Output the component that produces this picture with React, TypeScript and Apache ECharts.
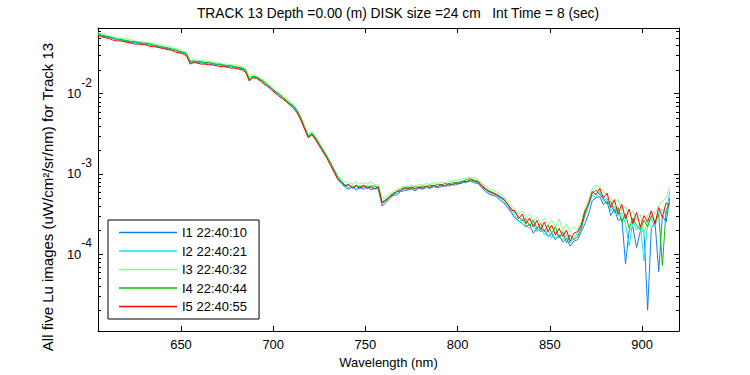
import React, { useEffect, useRef } from "react";
import * as echarts from "echarts";

// Wavelength grid (nm)
const wavelengths = [
  605, 607, 609, 611, 613, 615, 617, 619, 621, 623,
  625, 627, 629, 631, 633, 635, 637, 639, 641, 643,
  645, 647, 649, 651, 653, 655, 657, 659, 661, 663,
  665, 667, 669, 671, 673, 675, 677, 679, 681, 683,
  685, 687, 689, 691, 693, 695, 697, 699, 701, 703,
  705, 707, 709, 711, 713, 715, 717, 719, 721, 723,
  725, 727, 729, 731, 733, 735, 737, 739, 741, 743,
  745, 747, 749, 751, 753, 755, 757, 759, 761, 763,
  765, 767, 769, 771, 773, 775, 777, 779, 781, 783,
  785, 787, 789, 791, 793, 795, 797, 799, 801, 803,
  805, 807, 809, 811, 813, 815, 817, 819, 821, 823,
  825, 827, 829, 831, 833, 835, 837, 839, 841, 843,
  845, 847, 849, 851, 853, 855, 857, 859, 861, 863,
  865, 867, 869, 871, 873, 875, 877, 879, 881, 883,
  885, 887, 889, 891, 893, 895, 897, 899, 901, 903,
  905, 907, 909, 911, 913, 915,
];

// log10 of Lu (uW/cm^2/sr/nm) for each image
const logLuI1 = [
  -1.26, -1.28, -1.29, -1.30, -1.31, -1.32, -1.33, -1.34, -1.35, -1.36,
  -1.36, -1.37, -1.38, -1.38, -1.39, -1.40, -1.41, -1.42, -1.43, -1.44,
  -1.45, -1.46, -1.48, -1.49, -1.51, -1.61, -1.60, -1.61, -1.61, -1.62,
  -1.63, -1.63, -1.64, -1.64, -1.65, -1.66, -1.66, -1.67, -1.68, -1.69,
  -1.71, -1.83, -1.79, -1.80, -1.83, -1.86, -1.90, -1.94, -1.98, -2.01,
  -2.05, -2.09, -2.13, -2.16, -2.23, -2.31, -2.43, -2.54, -2.50, -2.56,
  -2.64, -2.71, -2.79, -2.88, -2.96, -3.06, -3.12, -3.17, -3.19, -3.16,
  -3.20, -3.17, -3.19, -3.16, -3.20, -3.18, -3.19, -3.40, -3.36, -3.31,
  -3.27, -3.26, -3.22, -3.21, -3.20, -3.19, -3.21, -3.18, -3.19, -3.17,
  -3.18, -3.16, -3.17, -3.16, -3.15, -3.15, -3.13, -3.14, -3.12, -3.11,
  -3.10, -3.09, -3.11, -3.12, -3.17, -3.22, -3.25, -3.27, -3.28, -3.33,
  -3.36, -3.42, -3.48, -3.55, -3.58, -3.62, -3.66, -3.63, -3.74, -3.68,
  -3.72, -3.70, -3.78, -3.74, -3.82, -3.76, -3.85, -3.80, -3.90, -3.84,
  -3.82, -3.72, -3.62, -3.50, -3.33, -3.30, -3.28, -3.38, -3.34, -3.52,
  -3.44, -3.58, -3.55, -4.12, -3.70, -3.66, -3.92, -3.72, -3.70, -4.70,
  -3.68, -3.60, -4.22, -3.52, -3.60, -3.30,
];

const logLuI2 = [
  -1.26, -1.27, -1.28, -1.30, -1.31, -1.32, -1.33, -1.34, -1.34, -1.35,
  -1.36, -1.37, -1.37, -1.38, -1.39, -1.40, -1.41, -1.42, -1.42, -1.43,
  -1.45, -1.46, -1.47, -1.49, -1.51, -1.61, -1.60, -1.60, -1.61, -1.62,
  -1.62, -1.63, -1.64, -1.64, -1.65, -1.65, -1.66, -1.67, -1.67, -1.68,
  -1.71, -1.82, -1.79, -1.80, -1.82, -1.86, -1.90, -1.93, -1.97, -2.01,
  -2.05, -2.08, -2.12, -2.16, -2.22, -2.31, -2.42, -2.53, -2.50, -2.56,
  -2.63, -2.71, -2.78, -2.87, -2.96, -3.05, -3.11, -3.15, -3.17, -3.14,
  -3.18, -3.15, -3.17, -3.14, -3.18, -3.16, -3.17, -3.37, -3.34, -3.30,
  -3.25, -3.24, -3.21, -3.19, -3.19, -3.17, -3.19, -3.17, -3.17, -3.16,
  -3.17, -3.15, -3.16, -3.14, -3.15, -3.13, -3.13, -3.12, -3.11, -3.10,
  -3.09, -3.08, -3.10, -3.11, -3.16, -3.20, -3.23, -3.25, -3.27, -3.30,
  -3.34, -3.40, -3.46, -3.52, -3.60, -3.56, -3.64, -3.68, -3.62, -3.72,
  -3.66, -3.76, -3.70, -3.80, -3.72, -3.78, -3.82, -3.76, -3.86, -3.80,
  -3.74, -3.66, -3.52, -3.40, -3.26, -3.30, -3.22, -3.34, -3.30, -3.46,
  -3.40, -3.52, -3.48, -3.62, -3.90, -3.58, -3.70, -3.64, -4.08, -3.62,
  -3.56, -3.66, -3.48, -3.44, -3.50, -3.22,
];

const logLuI3 = [
  -1.24, -1.25, -1.26, -1.28, -1.29, -1.30, -1.31, -1.31, -1.32, -1.33,
  -1.34, -1.35, -1.35, -1.36, -1.37, -1.38, -1.38, -1.39, -1.40, -1.41,
  -1.42, -1.44, -1.45, -1.46, -1.49, -1.59, -1.58, -1.58, -1.59, -1.59,
  -1.60, -1.61, -1.61, -1.62, -1.63, -1.63, -1.64, -1.64, -1.65, -1.66,
  -1.69, -1.80, -1.76, -1.78, -1.80, -1.84, -1.87, -1.91, -1.95, -1.99,
  -2.02, -2.06, -2.10, -2.14, -2.20, -2.29, -2.40, -2.51, -2.47, -2.54,
  -2.61, -2.69, -2.76, -2.85, -2.94, -3.02, -3.07, -3.10, -3.11, -3.13,
  -3.10, -3.13, -3.11, -3.12, -3.10, -3.13, -3.14, -3.30, -3.29, -3.25,
  -3.22, -3.19, -3.17, -3.15, -3.16, -3.14, -3.15, -3.13, -3.14, -3.12,
  -3.13, -3.11, -3.12, -3.10, -3.11, -3.09, -3.09, -3.08, -3.07, -3.06,
  -3.05, -3.04, -3.05, -3.07, -3.12, -3.15, -3.19, -3.20, -3.22, -3.25,
  -3.28, -3.34, -3.40, -3.44, -3.50, -3.46, -3.55, -3.50, -3.60, -3.54,
  -3.62, -3.55, -3.64, -3.58, -3.66, -3.56, -3.70, -3.62, -3.72, -3.66,
  -3.70, -3.60, -3.44, -3.32, -3.18, -3.14, -3.16, -3.22, -3.26, -3.30,
  -3.36, -3.32, -3.46, -3.40, -3.52, -3.46, -3.58, -3.50, -3.78, -3.52,
  -3.46, -3.50, -3.40, -3.34, -3.30, -3.16,
];

const logLuI4 = [
  -1.25, -1.27, -1.28, -1.29, -1.30, -1.32, -1.32, -1.33, -1.34, -1.35,
  -1.35, -1.36, -1.37, -1.37, -1.38, -1.39, -1.40, -1.41, -1.42, -1.43,
  -1.44, -1.45, -1.47, -1.48, -1.50, -1.60, -1.59, -1.60, -1.60, -1.61,
  -1.61, -1.62, -1.63, -1.63, -1.64, -1.65, -1.65, -1.66, -1.67, -1.68,
  -1.70, -1.82, -1.78, -1.79, -1.82, -1.85, -1.89, -1.93, -1.97, -2.00,
  -2.04, -2.08, -2.12, -2.15, -2.21, -2.30, -2.42, -2.53, -2.49, -2.55,
  -2.63, -2.70, -2.78, -2.86, -2.95, -3.04, -3.09, -3.14, -3.14, -3.17,
  -3.14, -3.16, -3.14, -3.17, -3.15, -3.15, -3.17, -3.35, -3.32, -3.28,
  -3.24, -3.22, -3.19, -3.18, -3.17, -3.18, -3.16, -3.17, -3.15, -3.16,
  -3.14, -3.15, -3.13, -3.14, -3.12, -3.13, -3.11, -3.11, -3.10, -3.09,
  -3.07, -3.06, -3.08, -3.09, -3.14, -3.18, -3.21, -3.23, -3.25, -3.28,
  -3.31, -3.38, -3.43, -3.48, -3.53, -3.58, -3.56, -3.65, -3.58, -3.68,
  -3.62, -3.72, -3.64, -3.74, -3.66, -3.80, -3.72, -3.86, -3.76, -3.82,
  -3.78, -3.68, -3.50, -3.36, -3.24, -3.20, -3.26, -3.30, -3.38, -3.34,
  -3.48, -3.42, -3.60, -3.50, -3.68, -3.55, -3.64, -3.70, -3.58, -3.66,
  -3.52, -3.60, -3.50, -4.14, -3.46, -3.36,
];

const logLuI5 = [
  -1.27, -1.29, -1.30, -1.31, -1.33, -1.34, -1.34, -1.35, -1.36, -1.37,
  -1.38, -1.38, -1.39, -1.39, -1.41, -1.41, -1.42, -1.43, -1.44, -1.45,
  -1.46, -1.48, -1.49, -1.50, -1.53, -1.63, -1.61, -1.62, -1.63, -1.63,
  -1.64, -1.64, -1.65, -1.66, -1.66, -1.67, -1.68, -1.68, -1.69, -1.70,
  -1.73, -1.84, -1.80, -1.81, -1.84, -1.88, -1.91, -1.95, -1.99, -2.03,
  -2.06, -2.10, -2.14, -2.18, -2.24, -2.33, -2.44, -2.55, -2.51, -2.58,
  -2.65, -2.73, -2.80, -2.89, -2.98, -3.07, -3.10, -3.15, -3.13, -3.18,
  -3.15, -3.18, -3.15, -3.18, -3.16, -3.19, -3.16, -3.36, -3.33, -3.29,
  -3.26, -3.22, -3.21, -3.17, -3.19, -3.16, -3.19, -3.16, -3.18, -3.15,
  -3.17, -3.14, -3.16, -3.13, -3.15, -3.12, -3.14, -3.11, -3.12, -3.09,
  -3.10, -3.07, -3.09, -3.10, -3.15, -3.19, -3.22, -3.24, -3.26, -3.29,
  -3.32, -3.37, -3.45, -3.46, -3.56, -3.50, -3.62, -3.55, -3.66, -3.58,
  -3.70, -3.60, -3.72, -3.64, -3.76, -3.68, -3.78, -3.70, -3.84, -3.74,
  -3.72, -3.64, -3.46, -3.38, -3.22, -3.26, -3.18, -3.30, -3.24, -3.42,
  -3.32, -3.50, -3.38, -3.56, -3.44, -3.62, -3.48, -3.66, -3.52, -3.60,
  -3.46, -3.62, -3.42, -3.54, -3.36, -3.40,
];

const seriesNames = ["I1 22:40:10", "I2 22:40:21", "I3 22:40:32", "I4 22:40:44", "I5 22:40:55"];
const seriesColors = ["#1080f0", "#10e6f8", "#80ff80", "#00c000", "#ff0000"];

// Axis limits and ticks (log10 units on y)
const xLimits = [605, 920];
const yLimits = [-4.959, -1.18];
const minorMultipliers = [2, 3, 4, 5, 6, 7, 8, 9];
const minorDecades = [-5, -4, -3, -2];

const TITLE = "TRACK 13 Depth =0.00 (m) DISK size =24 cm   Int Time = 8 (sec)";
const Y_TITLE = "All five Lu images (uW/cm\u00b2/sr/nm) for Track 13";
const X_TITLE = "Wavelength (nm)";

const FONT = "'Liberation Sans', Arial, Helvetica, sans-serif";

export default function App() {
  const ref = useRef<HTMLDivElement>(null);

  useEffect(() => {
    if (!ref.current) return;
    const chart = echarts.init(ref.current, null, { renderer: "svg" });

    const allLogs = [logLuI1, logLuI2, logLuI3, logLuI4, logLuI5];
    const lineSeries = allLogs.map((arr, i) => ({
      type: "line",
      name: seriesNames[i],
      data: wavelengths.map((w, j) => [w, arr[j]]),
      showSymbol: false,
      symbol: "none",
      lineStyle: { width: 1, color: seriesColors[i] },
      itemStyle: { color: seriesColors[i] },
      emphasis: { disabled: true },
      silent: true,
      z: 2 + i,
    }));

    const minorData: number[][] = [];
    for (const d of minorDecades) {
      for (const m of minorMultipliers) {
        const v = d + Math.log10(m);
        if (v > yLimits[0] && v < yLimits[1]) minorData.push([xLimits[0], v]);
      }
    }

    const axisLineStyle = { lineStyle: { color: "#000", width: 1 } };
    const tickStyle = { inside: true, length: 5, lineStyle: { color: "#000", width: 1 } };

    chart.setOption({
      animation: false,
      backgroundColor: "#fff",
      grid: { left: 98, right: 71, top: 28, bottom: 44, containLabel: false },
      xAxis: [
        {
          type: "value",
          position: "bottom",
          min: xLimits[0],
          max: xLimits[1],
          axisLine: axisLineStyle,
          axisTick: tickStyle,
          splitLine: { show: false },
          axisLabel: {
            color: "#000",
            fontFamily: FONT,
            fontSize: 13,
            margin: 7,
            showMinLabel: false,
            showMaxLabel: false,
          },
          name: X_TITLE,
          nameLocation: "middle",
          nameGap: 24,
          nameTextStyle: { color: "#000", fontFamily: FONT, fontSize: 13 },
        },
        {
          type: "value",
          position: "top",
          min: xLimits[0],
          max: xLimits[1],
          axisLine: axisLineStyle,
          axisTick: tickStyle,
          splitLine: { show: false },
          axisLabel: { show: false },
        },
      ],
      yAxis: [
        {
          type: "value",
          position: "left",
          min: yLimits[0],
          max: yLimits[1],
          axisLine: { show: true, ...axisLineStyle },
          axisTick: tickStyle,
          splitLine: { show: false },
          axisLabel: {
            margin: 6,
            showMinLabel: false,
            showMaxLabel: false,
            formatter: (v: number) =>
              Math.abs(v - Math.round(v)) < 1e-6 ? `{b|10}{s|${Math.round(v)}}` : "",
            rich: {
              b: { fontSize: 13, fontFamily: FONT, color: "#000" },
              s: { fontSize: 12, fontFamily: FONT, color: "#000", padding: [0, 0, 22, 0] },
            },
          },
        },
        {
          type: "value",
          position: "right",
          min: yLimits[0],
          max: yLimits[1],
          axisLine: { show: true, ...axisLineStyle },
          axisTick: tickStyle,
          splitLine: { show: false },
          axisLabel: { show: false },
        },
      ],
      legend: {
        data: seriesNames,
        orient: "vertical",
        left: 108,
        top: 220,
        padding: [6, 12, 6, 11],
        itemWidth: 58,
        itemHeight: 14,
        itemGap: 5.5,
        icon: "path://M0,0 L58,0 L58,1.4 L0,1.4 Z",
        backgroundColor: "#fff",
        borderColor: "#000",
        borderWidth: 1,
        borderRadius: 0,
        selectedMode: false,
        textStyle: { color: "#000", fontFamily: FONT, fontSize: 13 },
      },
      graphic: [
        {
          type: "text",
          x: 398,
          y: 13,
          style: {
            text: TITLE,
            fill: "#000",
            font: `13.8px ${FONT}`,
            align: "center",
            verticalAlign: "middle",
            textAlign: "center",
            textVerticalAlign: "middle",
          },
        },
        {
          type: "text",
          x: 47,
          y: 197,
          rotation: Math.PI / 2,
          style: {
            text: Y_TITLE,
            fill: "#000",
            font: `15px ${FONT}`,
            align: "center",
            verticalAlign: "middle",
            textAlign: "center",
            textVerticalAlign: "middle",
          },
        },
      ],
      series: [
        ...lineSeries,
        {
          type: "custom",
          name: "minorTicks",
          silent: true,
          clip: false,
          data: minorData,
          z: 10,
          renderItem: (params: any, api: any) => {
            const cs = params.coordSys;
            const p = api.coord([api.value(0), api.value(1)]);
            const y = Math.round(p[1]) + 0.5;
            return {
              type: "group",
              children: [
                {
                  type: "line",
                  shape: { x1: cs.x, y1: y, x2: cs.x + 3, y2: y },
                  style: { stroke: "#000", lineWidth: 1 },
                },
                {
                  type: "line",
                  shape: { x1: cs.x + cs.width - 3, y1: y, x2: cs.x + cs.width, y2: y },
                  style: { stroke: "#000", lineWidth: 1 },
                },
              ],
            };
          },
        },
      ],
    });

    return () => chart.dispose();
  }, []);

  return (
    <div
      ref={ref}
      style={{ position: "fixed", left: 0, top: 0, width: 750, height: 375, background: "#fff" }}
    />
  );
}
